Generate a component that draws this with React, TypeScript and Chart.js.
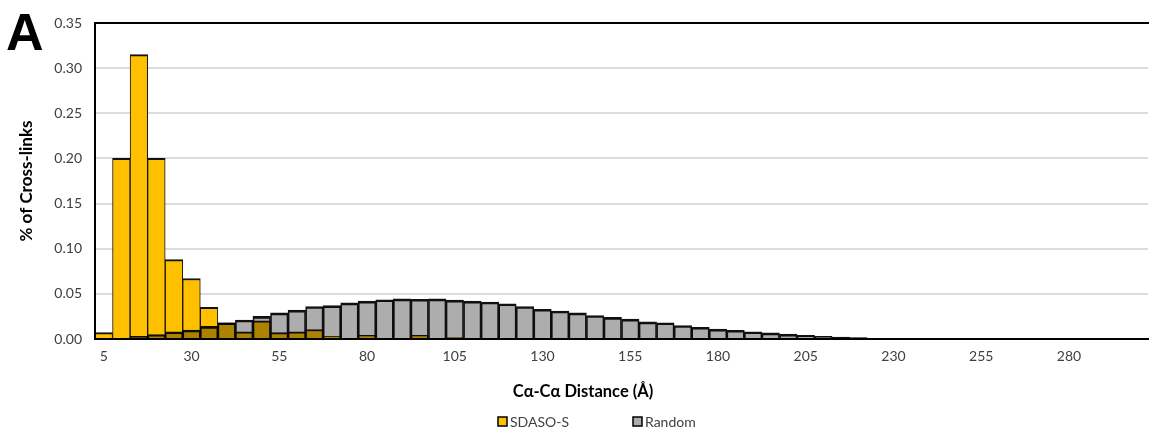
import React, { useEffect, useRef } from "react";
import { Chart, registerables } from "chart.js";

Chart.register(...registerables);

const categories = [
  "5", "10", "15", "20", "25", "30", "35", "40", "45", "50",
  "55", "60", "65", "70", "75", "80", "85", "90", "95", "100",
  "105", "110", "115", "120", "125", "130", "135", "140", "145", "150",
  "155", "160", "165", "170", "175", "180", "185", "190", "195", "200",
  "205", "210", "215", "220", "225", "230", "235", "240", "245", "250",
  "255", "260", "265", "270", "275", "280", "285", "290", "295", "300",
];

const xTickLabels = ["5", "30", "55", "80", "105", "130", "155", "180", "205", "230", "255", "280"];

const sdasoS = [
  0.007, 0.2, 0.315, 0.2, 0.088, 0.067, 0.035, 0.018, 0.008, 0.02,
  0.007, 0.008, 0.0105, 0.003, 0, 0.004, 0, 0, 0.004, 0,
  0.0015, 0, 0, 0, 0, 0, 0, 0, 0, 0,
  0, 0, 0, 0, 0, 0, 0, 0, 0, 0,
  0, 0, 0, 0, 0, 0, 0, 0, 0, 0,
  0, 0, 0, 0, 0, 0, 0, 0, 0, 0,
];

const random = [
  0.001, 0.001, 0.003, 0.005, 0.008, 0.01, 0.014, 0.018, 0.021, 0.025,
  0.029, 0.032, 0.036, 0.037, 0.04, 0.042, 0.0435, 0.0445, 0.044, 0.0445,
  0.043, 0.042, 0.041, 0.039, 0.036, 0.033, 0.031, 0.029, 0.026, 0.024,
  0.022, 0.019, 0.018, 0.015, 0.013, 0.011, 0.0097, 0.008, 0.0068, 0.0054,
  0.004, 0.003, 0.002, 0.0016, 0.0011, 0.0008, 0.0006, 0.0005, 0.0004, 0.0004,
  0.0003, 0.0003, 0.0003, 0.0002, 0.0002, 0.0002, 0, 0, 0, 0,
];

const yTicks = [0, 0.05, 0.1, 0.15, 0.2, 0.25, 0.3, 0.35];

const YELLOW = "#FFC000";
const GRAY = "#ADADAD";
const FONT = "Lato, 'Open Sans', sans-serif";

const multiplyPlugin = {
  id: "multiplyGray",
  beforeDatasetDraw(chart: any, args: any) {
    if (args.index === 1) {
      chart.ctx.save();
      chart.ctx.globalCompositeOperation = "multiply";
    }
  },
  afterDatasetDraw(chart: any, args: any) {
    if (args.index === 1) {
      chart.ctx.restore();
    }
  },
};

const decorPlugin = {
  id: "decor",
  afterDraw(chart: any) {
    const ctx = chart.ctx as CanvasRenderingContext2D;
    const ca = chart.chartArea;
    ctx.save();
    ctx.strokeStyle = "#000";
    ctx.lineWidth = 2;
    ctx.beginPath();
    ctx.moveTo(ca.left - 1, ca.top);
    ctx.lineTo(chart.width, ca.top);
    ctx.stroke();

    ctx.fillStyle = "#000";
    ctx.font = "bold 52px 'Liberation Sans', Arial, sans-serif";
    ctx.textAlign = "left";
    ctx.textBaseline = "alphabetic";
    ctx.fillText("A", 6, 50);

    ctx.save();
    ctx.translate(27, (ca.top + ca.bottom) / 2);
    ctx.rotate(-Math.PI / 2);
    ctx.font = `bold 17px ${FONT}`;
    ctx.textAlign = "center";
    ctx.textBaseline = "middle";
    ctx.fillText("% of Cross-links", 0, 0);
    ctx.restore();

    ctx.font = `bold 16.5px ${FONT}`;
    ctx.textAlign = "center";
    ctx.textBaseline = "middle";
    ctx.fillText("Cα-Cα Distance (Å)", 583, 392);

    const items = [
      { label: "SDASO-S", color: YELLOW, x: 498 },
      { label: "Random", color: GRAY, x: 633 },
    ];
    ctx.font = `14px ${FONT}`;
    ctx.textAlign = "left";
    ctx.textBaseline = "middle";
    for (const it of items) {
      ctx.fillStyle = it.color;
      ctx.fillRect(it.x, 417, 9, 9);
      ctx.strokeStyle = "#000";
      ctx.lineWidth = 1.5;
      ctx.strokeRect(it.x, 417, 9, 9);
      ctx.fillStyle = "#404040";
      ctx.fillText(it.label, it.x + 12, 422);
    }
    ctx.restore();
  },
};

export default function App() {
  const ref = useRef<HTMLCanvasElement | null>(null);

  useEffect(() => {
    if (!ref.current) return;
    const chart = new Chart(ref.current, {
      type: "bar",
      data: {
        labels: categories,
        datasets: [
          {
            label: "SDASO-S",
            data: sdasoS,
            backgroundColor: YELLOW,
            borderColor: "#111",
            borderWidth: { top: 2, left: 1, right: 1, bottom: 0 } as any,
            borderSkipped: "start",
            barPercentage: 1,
            categoryPercentage: 1,
            grouped: false,
            order: 1,
          },
          {
            label: "Random",
            data: random,
            backgroundColor: GRAY,
            borderColor: "#111",
            borderWidth: { top: 2, left: 1, right: 1, bottom: 0 } as any,
            borderSkipped: "start",
            barPercentage: 1,
            categoryPercentage: 1,
            grouped: false,
            order: 0,
          },
        ],
      },
      options: {
        responsive: false,
        animation: false,
        layout: { padding: { top: 23, right: 1, bottom: 0, left: 0 } },
        plugins: {
          legend: { display: false },
          tooltip: { enabled: false },
        },
        scales: {
          x: {
            grid: { display: false, drawTicks: false },
            border: { display: true, color: "#000", width: 2, z: 1 },
            ticks: {
              autoSkip: false,
              maxRotation: 0,
              minRotation: 0,
              padding: 9,
              color: "#404040",
              font: { family: FONT, size: 14 },
              callback: function (this: any, value: any) {
                const lbl = categories[value as number];
                return xTickLabels.includes(lbl) ? lbl : "";
              },
            },
            afterFit: (s: any) => {
              s.height = 94;
            },
          },
          y: {
            min: 0,
            max: 0.35,
            afterBuildTicks: (s: any) => {
              s.ticks = yTicks.map((v) => ({ value: v }));
            },
            grid: { color: "#DCDCDC", lineWidth: 2, drawTicks: false },
            border: { display: true, color: "#000", width: 2, z: 1 },
            ticks: {
              padding: 13,
              color: "#404040",
              font: { family: FONT, size: 14 },
              callback: (v: any) => Number(v).toFixed(2),
            },
            afterFit: (s: any) => {
              s.width = 95;
            },
          },
        },
      },
      plugins: [multiplyPlugin, decorPlugin],
    });
    return () => chart.destroy();
  }, []);

  return (
    <div style={{ position: "fixed", left: 0, top: 0, width: 1149, height: 433, background: "#fff" }}>
      <canvas ref={ref} width={1149} height={433} style={{ display: "block" }} />
    </div>
  );
}
